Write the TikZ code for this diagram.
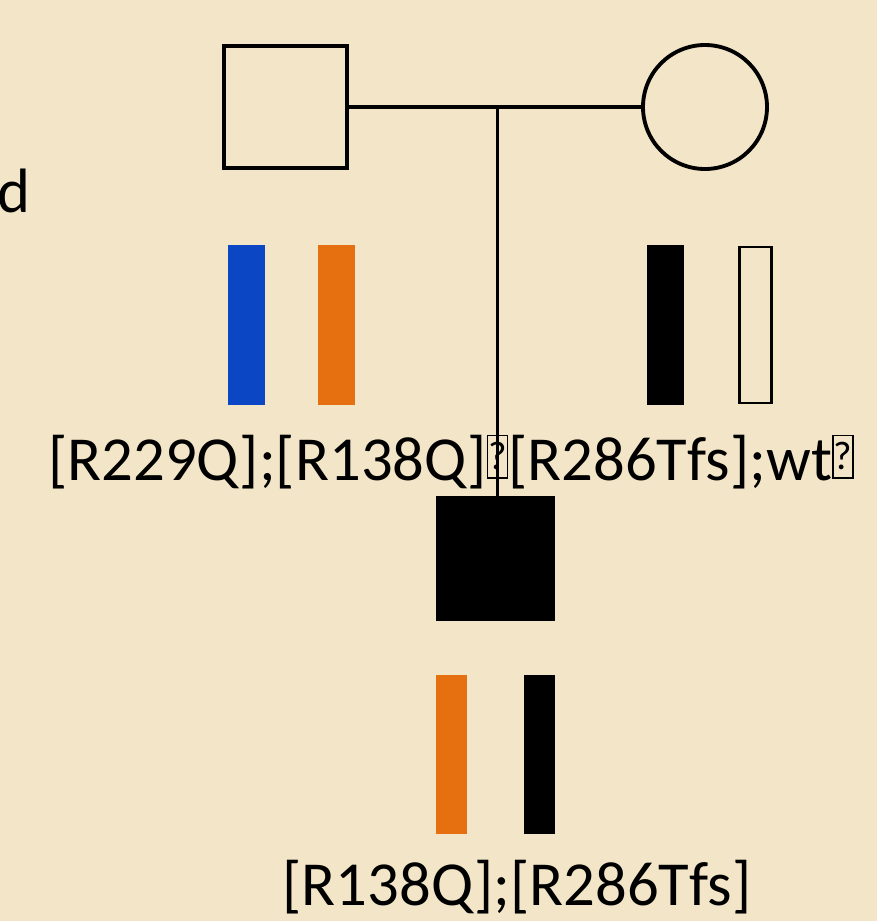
\documentclass[tikz,border=0pt]{standalone}
\usepackage{fontspec}
\setmainfont{Carlito}
\definecolor{bg}{HTML}{F3E6C8}
\definecolor{barblue}{HTML}{0B46C4}
\definecolor{barorange}{HTML}{E6700F}
\newcommand{\qmarkbox}{\raisebox{2pt}{\setlength\fboxsep{0pt}\setlength\fboxrule{1.1pt}\fbox{\makebox[14pt]{\rule{0pt}{31pt}\raisebox{6pt}{\fontsize{30}{30}\selectfont ?}}}}}
\begin{document}
\begin{tikzpicture}[x=0.75pt,y=-0.75pt,
  pedline/.style={line width=2.9pt},
  male/.style={draw, pedline, rectangle, minimum width=92pt, minimum height=92pt, inner sep=0pt},
  female/.style={draw, pedline, circle, minimum size=93pt, inner sep=0pt},
  bar/.style={rectangle, inner sep=0pt, minimum width=27.5pt, minimum height=120pt},
  kidbar/.style={rectangle, inner sep=0pt, minimum height=119pt},
  lbl/.style={font=\fontsize{47}{50}\selectfont, inner sep=0pt, anchor=base}
]
\fill[bg] (0,0) rectangle (877,921);
\useasboundingbox (0,0) rectangle (877,921);
% parents
\node[male] (father) at (285.5,107) {};
\node[female] (mother) at (705,107) {};
\draw[pedline] (father.east) -- (mother.west) coordinate[pos=0.51] (mid);
% child
\node[draw, fill=black, line width=0pt, rectangle, minimum width=89pt, minimum height=93.5pt, inner sep=0pt] (child) at (495.5,558.5) {};
\draw[line width=2.2pt] (mid) -- (mid |- child.north);
% parent bars
\node[bar, fill=barblue] (b1) at (246.5,325) {};
\node[bar, fill=barorange] (b2) at (336.5,325) {};
\node[bar, fill=black] (b3) at (665.5,325) {};
\node[bar, draw, line width=2.2pt, fill=bg, minimum width=24.5pt, minimum height=117pt] (b4) at (755.5,325) {};
% child bars
\node[kidbar, fill=barorange, minimum width=23.3pt] (c1) at (451.5,754.5) {};
\node[kidbar, fill=black, minimum width=23.5pt] (c2) at (539.5,754.5) {};
% labels
\node[lbl] (l1) at (451,480) {[R229Q];[R138Q]\qmarkbox[R286Tfs];wt\qmarkbox};
\node[lbl] (l2) at (517,905) {[R138Q];[R286Tfs]};
\node[lbl, anchor=base west] (d) at (-3,212) {d};
\end{tikzpicture}
\end{document}
